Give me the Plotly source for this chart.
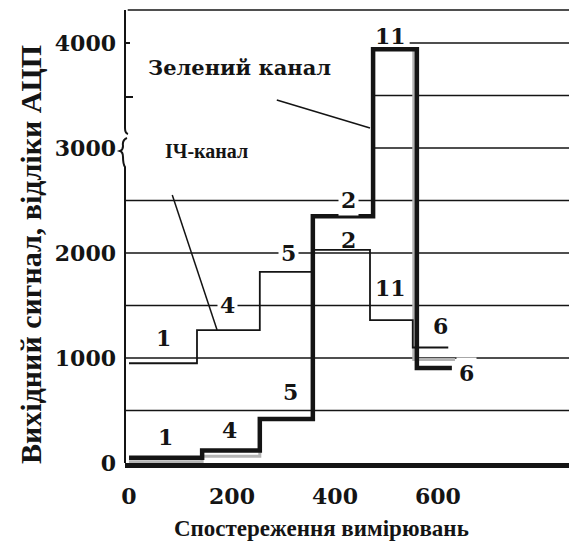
import plotly.graph_objects as go

# ---------------- data ----------------
green_x = [0, 142, 254, 357, 474, 559, 627]
green_y = [50, 118, 420, 2350, 3940, 905, 905]

ir_x = [0, 132, 254, 357, 468, 551, 620]
ir_y = [950, 1265, 1820, 2030, 1360, 1100, 1100]

gray_x = [0, 142, 254, 357, 474, 553, 633]
gray_y = [12, 65, 420, 2350, 3940, 985, 985]

y_ticks = [0, 1000, 2000, 3000, 4000]
x_ticks = [0, 200, 400, 600]

grid_vals = [500, 1000, 1500, 2000, 2500, 3000, 3500, 4000]
grid_start = [None, None, None, None, None, 474, 474, 545]  # None = from axis

# step labels: (text, x, y, has white background)
green_labels = [("1", 70, 250, False), ("4", 196, 310, False), ("5", 313, 675, False),
                ("2", 426, 2500, True), ("11", 507, 4070, False), ("6", 656, 860, True)]
ir_labels = [("1", 66, 1190, False), ("4", 192, 1500, True), ("5", 309, 2000, True),
             ("2", 426, 2120, False), ("11", 507, 1670, False), ("6", 604, 1300, False)]

X_RANGE = [-7.8, 870]
Y_RANGE = [0, 4314]

# page offset of the figure inside the browser window (body margin)
OFF = 8
SW, SH = 577, 544                  # window size
PL, PT, PBOT = 125, 10, 463        # plot area in window pixels
W, H = SW - OFF, SH - OFF
L, T = PL - OFF, PT - OFF
B = H - (PBOT - OFF)
R = 0
PW, PH = W - L - R, H - T - B

def px2paper(px, py):
    return (px - PL) / PW, (PBOT - py) / PH

INK = "#141414"
SERIF = "Liberation Serif"
SERIF2 = "DejaVu Serif"

fig = go.Figure()

fig.add_trace(go.Scatter(x=gray_x, y=gray_y, mode="lines", line_shape="hv",
                         line=dict(color="#b4b4b4", width=3), hoverinfo="skip"))
fig.add_trace(go.Scatter(x=ir_x, y=ir_y, mode="lines", line_shape="hv",
                         line=dict(color=INK, width=1.8), hoverinfo="skip"))
fig.add_trace(go.Scatter(x=green_x, y=green_y, mode="lines", line_shape="hv",
                         line=dict(color=INK, width=4.5), hoverinfo="skip"))

shapes = []
for v, s in zip(grid_vals, grid_start):
    if s is None:
        shapes.append(dict(type="line", xref="paper", yref="y", x0=0, x1=1, y0=v, y1=v,
                           line=dict(color=INK, width=1.5), layer="below"))
    else:
        shapes.append(dict(type="line", xref="x", yref="y", x0=s, x1=X_RANGE[1], y0=v, y1=v,
                           line=dict(color=INK, width=1.5), layer="below"))
shapes.append(dict(type="line", xref="paper", yref="paper", x0=0.006, x1=1, y0=1, y1=1,
                   line=dict(color=INK, width=1.5)))

def P(px, py):
    x, y = px2paper(px, py)
    return f"{x:.4f},{y:.4f}"

upper = f"M {P(125,10)} L {P(125,128)} Q {P(125,133)} {P(128,134)}"
lower = (f"M {P(127,138)} Q {P(122,140)} {P(123,146)} Q {P(123,150)} {P(120,151)} "
         f"Q {P(123,152)} {P(123,157)} Q {P(123,164)} {P(125,167)} L {P(125,463)}")
for p in (upper, lower):
    shapes.append(dict(type="path", xref="paper", yref="paper", path=p,
                       line=dict(color=INK, width=2)))
for py, ln in ((97, 8), (43, 5)):
    x0, y0 = px2paper(125, py)
    x1, _ = px2paper(125 + ln, py)
    shapes.append(dict(type="line", xref="paper", yref="paper", x0=x0, x1=x1, y0=y0, y1=y0,
                       line=dict(color=INK, width=2)))

shapes.append(dict(type="line", xref="x", yref="y", x0=287, y0=3457, x1=468, y1=3190,
                   line=dict(color=INK, width=1.5)))
shapes.append(dict(type="line", xref="x", yref="y", x0=84, y0=2552, x1=171, y1=1267,
                   line=dict(color=INK, width=1.5)))

annotations = []
for txt, x, y, bg in green_labels + ir_labels:
    annotations.append(dict(x=x, y=y, xref="x", yref="y", text=txt, showarrow=False,
                            xanchor="center", yanchor="middle",
                            font=dict(family=SERIF2, size=22, color=INK, weight="bold"),
                            bgcolor="white" if bg else "rgba(0,0,0,0)", borderpad=2))

annotations.append(dict(x=214, y=3770, xref="x", yref="y", text="Зелений канал",
                        showarrow=False, xanchor="center", yanchor="middle",
                        font=dict(family=SERIF2, size=21, color=INK, weight="bold")))
annotations.append(dict(x=151, y=2975, xref="x", yref="y", text="ІЧ-канал",
                        showarrow=False, xanchor="center", yanchor="middle",
                        font=dict(family=SERIF, size=20, color=INK, weight="bold")))

ax, ay = px2paper(30, 255)
annotations.append(dict(x=ax, y=ay, xref="paper", yref="paper", textangle=-90,
                        xanchor="center", yanchor="middle",
                        text="Вихідний сигнал, відліки АЦП", showarrow=False,
                        font=dict(family=SERIF, size=30, color=INK, weight="bold")))
tx, ty = px2paper(321, 528)
annotations.append(dict(x=tx, y=ty, xref="paper", yref="paper",
                        xanchor="center", yanchor="middle",
                        text="Спостереження вимірювань", showarrow=False,
                        font=dict(family=SERIF, size=23, color=INK, weight="bold")))

fig.update_layout(
    width=W, height=H, margin=dict(l=L, r=R, t=T, b=B),
    paper_bgcolor="white", plot_bgcolor="white", showlegend=False,
    shapes=shapes, annotations=annotations,
    xaxis=dict(range=X_RANGE, tickvals=x_ticks, showgrid=False, zeroline=False,
               showline=True, linecolor=INK, linewidth=5, ticks="",
               ticklabelstandoff=10,
               tickfont=dict(family=SERIF2, size=22, color=INK, weight="bold")),
    yaxis=dict(range=Y_RANGE, tickvals=y_ticks, showgrid=False, zeroline=False,
               showline=False, ticks="", ticklabelstandoff=8,
               tickfont=dict(family=SERIF2, size=22, color=INK, weight="bold")),
)

fig.write_html("out.html")
